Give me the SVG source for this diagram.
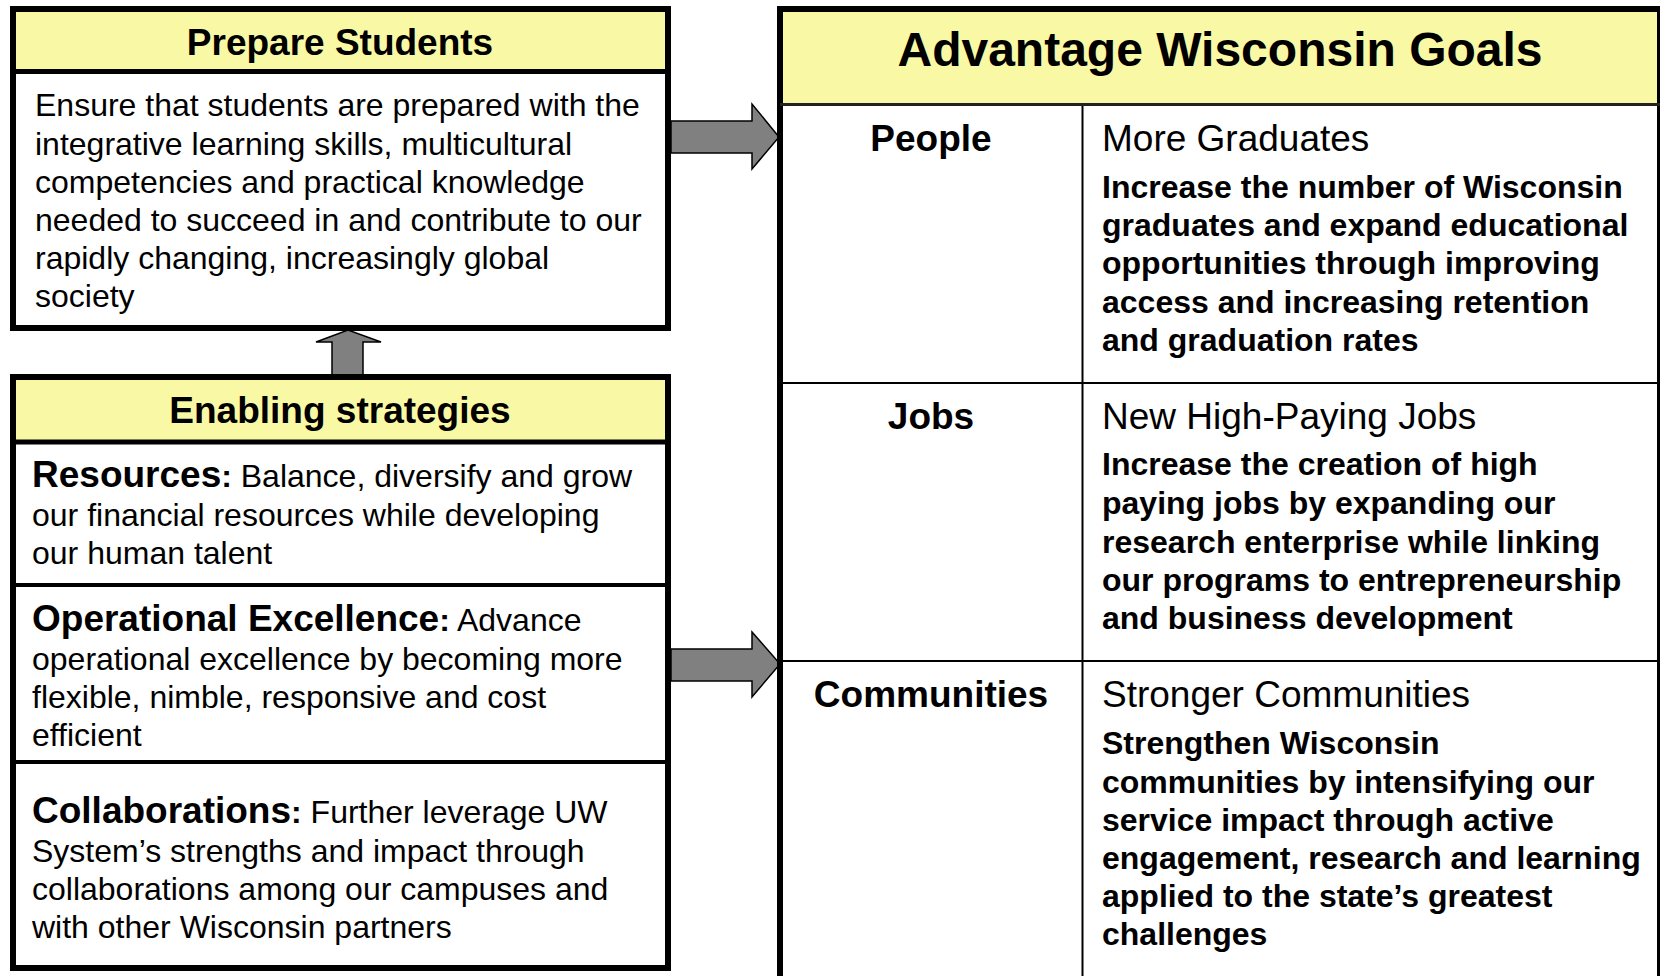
<svg xmlns="http://www.w3.org/2000/svg" width="1660" height="976" viewBox="0 0 1660 976">
<defs>
<style>
text{font-family:"Liberation Sans",Arial,Helvetica,sans-serif;fill:#000}
.hdr{fill:#F9F8A4}
.box{fill:#fff;stroke:#000;stroke-width:6}
.thick{stroke:#000;stroke-width:5}
.thin{stroke:#000;stroke-width:2}
.arrow{fill:#808080;stroke:#000;stroke-width:1.5;stroke-linejoin:miter}
.t37b{font-size:37px;font-weight:bold}
.t48b{font-size:48px;font-weight:bold}
.t32{font-size:32px}
.t32b{font-size:32px;font-weight:bold}
.t37{font-size:37px}
.mid{text-anchor:middle}
</style>
</defs>
<rect width="1660" height="976" fill="#fff"/>
<g id="connectors">
<polygon class="arrow" points="671,121 752,121 752,104 779,137 752,169 752,153 671,153"/>
<polygon class="arrow" points="671,649 752,649 752,632 780,664 752,697 752,681 671,681"/>
<polygon class="arrow" points="332,377 332,342 316,342 348,330 381,342 363,342 363,377"/>
</g>
<g id="prepare-students">
<rect class="box" x="13" y="9" width="655" height="319"/>
<rect class="hdr" x="16" y="12" width="649" height="59"/>
<line class="thick" x1="13" y1="71.5" x2="668" y2="71.5"/>
<text class="t37b mid" x="340" y="55">Prepare Students</text>
<text class="t32" x="35" y="116">Ensure that students are prepared with the</text>
<text class="t32" x="35" y="155">integrative learning skills, multicultural</text>
<text class="t32" x="35" y="193">competencies and practical knowledge</text>
<text class="t32" x="35" y="231">needed to succeed in and contribute to our</text>
<text class="t32" x="35" y="269">rapidly changing, increasingly global</text>
<text class="t32" x="35" y="307">society</text>
</g>
<g id="enabling-strategies">
<rect class="box" x="13" y="377" width="655" height="591"/>
<rect class="hdr" x="16" y="380" width="649" height="61"/>
<line class="thick" x1="13" y1="442" x2="668" y2="442"/>
<text class="t37b mid" x="340" y="423">Enabling strategies</text>
<line class="thick" x1="13" y1="585" x2="668" y2="585" style="stroke-width:4"/>
<line class="thick" x1="13" y1="762" x2="668" y2="762" style="stroke-width:4"/>
</g>
<g id="resources">
<text class="t32" x="32" y="487"><tspan class="t37b">Resources</tspan><tspan font-weight="bold">:</tspan> Balance, diversify and grow</text>
<text class="t32" x="32" y="526">our financial resources while developing</text>
<text class="t32" x="32" y="564">our human talent</text>
</g>
<g id="operational-excellence">
<text class="t32" x="32" y="631"><tspan class="t37b">Operational Excellence</tspan><tspan font-weight="bold">:</tspan> Advance</text>
<text class="t32" x="32" y="670">operational excellence by becoming more</text>
<text class="t32" x="32" y="708">flexible, nimble, responsive and cost</text>
<text class="t32" x="32" y="746">efficient</text>
</g>
<g id="collaborations">
<text class="t32" x="32" y="823"><tspan class="t37b">Collaborations</tspan><tspan font-weight="bold">:</tspan> Further leverage UW</text>
<text class="t32" x="32" y="862">System’s strengths and impact through</text>
<text class="t32" x="32" y="900">collaborations among our campuses and</text>
<text class="t32" x="32" y="938">with other Wisconsin partners</text>
</g>
<g id="advantage-wisconsin-goals">
<rect class="box" x="780" y="9" width="880" height="990"/>
<rect class="hdr" x="783" y="12" width="874" height="92"/>
<line x1="780" y1="104.5" x2="1660" y2="104.5" stroke="#222" stroke-width="3"/>
<text class="t48b mid" x="1220" y="66">Advantage Wisconsin Goals</text>
<line class="thin" x1="1082.5" y1="106" x2="1082.5" y2="976"/>
<line class="thin" x1="780" y1="383" x2="1660" y2="383"/>
<line class="thin" x1="780" y1="661" x2="1660" y2="661"/>
</g>
<g id="people">
<text class="t37b mid" x="931" y="151">People</text>
<text class="t37" x="1102" y="151">More Graduates</text>
<text class="t32b" x="1102" y="198">Increase the number of Wisconsin</text>
<text class="t32b" x="1102" y="236">graduates and expand educational</text>
<text class="t32b" x="1102" y="274">opportunities through improving</text>
<text class="t32b" x="1102" y="313">access and increasing retention</text>
<text class="t32b" x="1102" y="351">and graduation rates</text>
</g>
<g id="jobs">
<text class="t37b mid" x="931" y="429">Jobs</text>
<text class="t37" x="1102" y="429">New High-Paying Jobs</text>
<text class="t32b" x="1102" y="475">Increase the creation of high</text>
<text class="t32b" x="1102" y="514">paying jobs by expanding our</text>
<text class="t32b" x="1102" y="553">research enterprise while linking</text>
<text class="t32b" x="1102" y="591">our programs to entrepreneurship</text>
<text class="t32b" x="1102" y="629">and business development</text>
</g>
<g id="communities">
<text class="t37b mid" x="931" y="707">Communities</text>
<text class="t37" x="1102" y="707">Stronger Communities</text>
<text class="t32b" x="1102" y="754">Strengthen Wisconsin</text>
<text class="t32b" x="1102" y="793">communities by intensifying our</text>
<text class="t32b" x="1102" y="831">service impact through active</text>
<text class="t32b" x="1102" y="869">engagement, research and learning</text>
<text class="t32b" x="1102" y="907">applied to the state’s greatest</text>
<text class="t32b" x="1102" y="945">challenges</text>
</g>
</svg>
